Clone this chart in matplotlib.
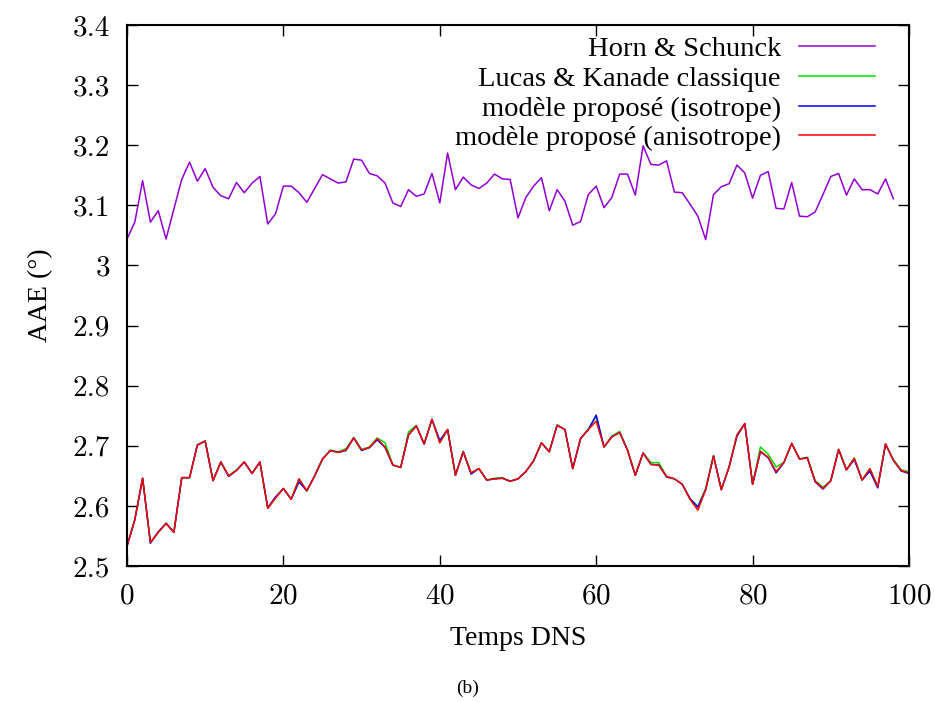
import numpy as np
import matplotlib.pyplot as plt
from matplotlib.ticker import FormatStrFormatter

plt.rcParams['font.family'] = ['Liberation Serif', 'DejaVu Serif']
plt.rcParams['axes.formatter.use_mathtext'] = True

# ==========================
# Données
# ==========================

temps_hs = np.arange(0, 99)
horn_schunck = [
    3.044, 3.072, 3.141, 3.072, 3.091, 3.044, 3.094, 3.143, 3.172, 3.140,
    3.161, 3.130, 3.116, 3.111, 3.138, 3.121, 3.137, 3.148, 3.069, 3.086,
    3.132, 3.132, 3.121, 3.105, 3.128, 3.151, 3.144, 3.137, 3.139, 3.177,
    3.175, 3.153, 3.149, 3.137, 3.104, 3.098, 3.126, 3.115, 3.119, 3.153,
    3.104, 3.187, 3.126, 3.147, 3.134, 3.128, 3.137, 3.152, 3.144, 3.143,
    3.079, 3.113, 3.132, 3.146, 3.091, 3.126, 3.107, 3.067, 3.073, 3.118,
    3.132, 3.096, 3.113, 3.152, 3.152, 3.117, 3.199, 3.168, 3.167, 3.174,
    3.122, 3.121, 3.102, 3.082, 3.043, 3.118, 3.131, 3.136, 3.167, 3.154,
    3.112, 3.150, 3.156, 3.095, 3.094, 3.138, 3.082, 3.081, 3.089, 3.118,
    3.148, 3.153, 3.117, 3.144, 3.126, 3.126, 3.119, 3.144, 3.111,
]

temps = np.arange(0, 101)
anisotrope = [
    2.533, 2.577, 2.646, 2.539, 2.556, 2.571, 2.556, 2.647, 2.647, 2.701,
    2.708, 2.642, 2.673, 2.650, 2.659, 2.673, 2.654, 2.673, 2.596, 2.613,
    2.629, 2.611, 2.645, 2.625, 2.650, 2.678, 2.692, 2.689, 2.693, 2.713,
    2.693, 2.697, 2.712, 2.698, 2.668, 2.664, 2.718, 2.733, 2.703, 2.744,
    2.705, 2.727, 2.651, 2.690, 2.655, 2.662, 2.643, 2.645, 2.646, 2.641,
    2.645, 2.657, 2.675, 2.705, 2.690, 2.734, 2.727, 2.662, 2.712, 2.727,
    2.741, 2.698, 2.715, 2.722, 2.693, 2.651, 2.688, 2.669, 2.668, 2.649,
    2.645, 2.636, 2.611, 2.593, 2.627, 2.683, 2.627, 2.665, 2.718, 2.737,
    2.636, 2.691, 2.681, 2.657, 2.672, 2.704, 2.678, 2.680, 2.641, 2.629,
    2.642, 2.694, 2.660, 2.679, 2.643, 2.662, 2.632, 2.703, 2.676, 2.659,
    2.655,
]

isotrope = [
    2.533, 2.577, 2.646, 2.538, 2.557, 2.571, 2.556, 2.647, 2.647, 2.701,
    2.708, 2.642, 2.673, 2.649, 2.659, 2.673, 2.654, 2.673, 2.597, 2.615,
    2.629, 2.611, 2.640, 2.625, 2.650, 2.678, 2.692, 2.689, 2.692, 2.713,
    2.692, 2.697, 2.710, 2.697, 2.668, 2.664, 2.718, 2.733, 2.703, 2.744,
    2.709, 2.727, 2.651, 2.690, 2.653, 2.662, 2.643, 2.645, 2.646, 2.641,
    2.645, 2.657, 2.675, 2.705, 2.690, 2.734, 2.727, 2.662, 2.712, 2.727,
    2.751, 2.698, 2.715, 2.722, 2.693, 2.651, 2.688, 2.669, 2.668, 2.648,
    2.645, 2.636, 2.612, 2.598, 2.627, 2.683, 2.627, 2.665, 2.716, 2.737,
    2.636, 2.690, 2.680, 2.655, 2.672, 2.704, 2.678, 2.680, 2.640, 2.628,
    2.642, 2.694, 2.660, 2.677, 2.643, 2.658, 2.630, 2.703, 2.676, 2.658,
    2.654,
]

lucas_kanade = [
    2.533, 2.577, 2.646, 2.539, 2.556, 2.571, 2.556, 2.647, 2.647, 2.702,
    2.708, 2.642, 2.673, 2.650, 2.660, 2.673, 2.654, 2.673, 2.596, 2.613,
    2.629, 2.611, 2.645, 2.625, 2.650, 2.678, 2.693, 2.690, 2.695, 2.714,
    2.694, 2.698, 2.713, 2.705, 2.668, 2.664, 2.723, 2.734, 2.703, 2.744,
    2.705, 2.727, 2.651, 2.691, 2.655, 2.662, 2.643, 2.646, 2.647, 2.641,
    2.645, 2.657, 2.675, 2.705, 2.690, 2.735, 2.727, 2.662, 2.712, 2.728,
    2.749, 2.698, 2.716, 2.724, 2.693, 2.651, 2.688, 2.672, 2.672, 2.649,
    2.645, 2.636, 2.612, 2.599, 2.629, 2.684, 2.627, 2.665, 2.718, 2.737,
    2.636, 2.698, 2.686, 2.665, 2.672, 2.704, 2.678, 2.681, 2.642, 2.631,
    2.642, 2.694, 2.660, 2.680, 2.643, 2.662, 2.632, 2.703, 2.677, 2.660,
    2.657,
]

# ==========================
# Graphique
# ==========================

fig = plt.figure(figsize=(9.35, 7.02), dpi=100)
ax = fig.add_axes([0.1358, 0.1937, 0.8364, 0.7707])

ax.plot(temps_hs, horn_schunck, color='#9400d3', linewidth=1.1, label='Horn & Schunck')
ax.plot(temps, lucas_kanade, color='#00e000', linewidth=1.1, label='Lucas & Kanade classique')
ax.plot(temps, isotrope, color='#0000ff', linewidth=1.1, label='modèle proposé (isotrope)')
ax.plot(temps, anisotrope, color='#ff0000', linewidth=1.1, label='modèle proposé (anisotrope)')

ax.set_xlim(0, 100)
ax.set_ylim(2.5, 3.4)
ax.set_xticks(np.arange(0, 101, 20))
ax.set_yticks(np.arange(2.5, 3.41, 0.1))
ax.yaxis.set_major_formatter(FormatStrFormatter('%g'))
ax.tick_params(direction='in', length=8, width=1, top=True, right=True)
ax.tick_params(axis='x', pad=12)
ax.tick_params(axis='y', pad=12)
for lab in ax.get_xticklabels() + ax.get_yticklabels():
    lab.set_fontfamily('cmr10')
    lab.set_fontsize(21)
for s in ax.spines.values():
    s.set_linewidth(1.5)

ax.set_xlabel('Temps DNS', fontsize=20, labelpad=12)
ax.set_ylabel('AAE (°)', fontsize=20, labelpad=14)

ax.legend(loc='upper right', frameon=False, markerfirst=False, fontsize=20.5,
          handlelength=2.68, handletextpad=0.62, labelspacing=0.13,
          borderaxespad=0.0, bbox_to_anchor=(0.971, 1.0))

fig.text(0.5005, 0.02, '(b)', ha='center', va='center', fontsize=14)

fig.savefig('out.png', dpi=100)
plt.close()
